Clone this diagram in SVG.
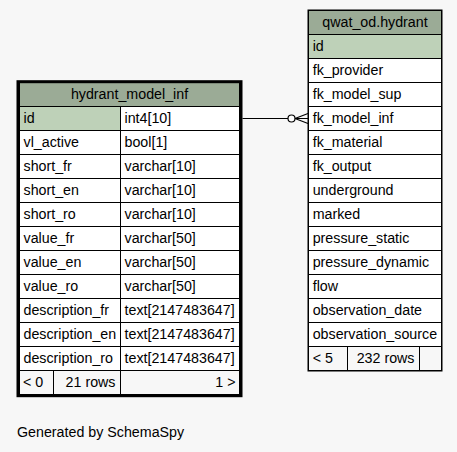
<svg xmlns="http://www.w3.org/2000/svg" width="457" height="452" viewBox="0 0 457 452">
<style>
text{font-family:"Liberation Sans",Arial,sans-serif;font-size:14.25px;fill:#000}
.hd{fill:#9bab96;stroke:#000;stroke-width:1}
.pk{fill:#bed1b8;stroke:#000;stroke-width:1}
.c{fill:#fff;stroke:#000;stroke-width:1}
.ft{fill:#f7f7f7;stroke:#000;stroke-width:1}
.mid{text-anchor:middle}
.end{text-anchor:end}
.ln{stroke:#000;stroke-width:1.2;fill:none}
</style>
<rect width="457" height="452" fill="#f7f7f7"/>
<g id="hydrant_model_inf">
<rect class="hd" x="19.5" y="82.5" width="220" height="24"/>
<text class="mid" x="129.5" y="98.5">hydrant_model_inf</text>
<rect class="pk" x="19.5" y="106.5" width="101" height="24"/><rect class="c" x="120.5" y="106.5" width="119" height="24"/>
<text x="23.5" y="122.7">id</text><text x="124.5" y="122.7">int4[10]</text>
<rect class="c" x="19.5" y="130.5" width="101" height="24"/><rect class="c" x="120.5" y="130.5" width="119" height="24"/>
<text x="23.5" y="146.7">vl_active</text><text x="124.5" y="146.7">bool[1]</text>
<rect class="c" x="19.5" y="154.5" width="101" height="24"/><rect class="c" x="120.5" y="154.5" width="119" height="24"/>
<text x="23.5" y="170.7">short_fr</text><text x="124.5" y="170.7">varchar[10]</text>
<rect class="c" x="19.5" y="178.5" width="101" height="24"/><rect class="c" x="120.5" y="178.5" width="119" height="24"/>
<text x="23.5" y="194.7">short_en</text><text x="124.5" y="194.7">varchar[10]</text>
<rect class="c" x="19.5" y="202.5" width="101" height="24"/><rect class="c" x="120.5" y="202.5" width="119" height="24"/>
<text x="23.5" y="218.7">short_ro</text><text x="124.5" y="218.7">varchar[10]</text>
<rect class="c" x="19.5" y="226.5" width="101" height="24"/><rect class="c" x="120.5" y="226.5" width="119" height="24"/>
<text x="23.5" y="242.7">value_fr</text><text x="124.5" y="242.7">varchar[50]</text>
<rect class="c" x="19.5" y="250.5" width="101" height="24"/><rect class="c" x="120.5" y="250.5" width="119" height="24"/>
<text x="23.5" y="266.7">value_en</text><text x="124.5" y="266.7">varchar[50]</text>
<rect class="c" x="19.5" y="274.5" width="101" height="24"/><rect class="c" x="120.5" y="274.5" width="119" height="24"/>
<text x="23.5" y="290.7">value_ro</text><text x="124.5" y="290.7">varchar[50]</text>
<rect class="c" x="19.5" y="298.5" width="101" height="24"/><rect class="c" x="120.5" y="298.5" width="119" height="24"/>
<text x="23.5" y="314.7">description_fr</text><text x="124.5" y="314.7">text[2147483647]</text>
<rect class="c" x="19.5" y="322.5" width="101" height="24"/><rect class="c" x="120.5" y="322.5" width="119" height="24"/>
<text x="23.5" y="338.7">description_en</text><text x="124.5" y="338.7">text[2147483647]</text>
<rect class="c" x="19.5" y="346.5" width="101" height="24"/><rect class="c" x="120.5" y="346.5" width="119" height="24"/>
<text x="23.5" y="362.7">description_ro</text><text x="124.5" y="362.7">text[2147483647]</text>
<rect class="ft" x="19.5" y="370.5" width="34" height="24"/><rect class="ft" x="53.5" y="370.5" width="67" height="24"/><rect class="ft" x="120.5" y="370.5" width="119" height="24"/>
<text x="23" y="386.7">&lt; 0</text><text class="end" x="115.5" y="386.7">21 rows</text><text class="end" x="235.5" y="386.7">1 &gt;</text>
<rect x="18" y="81.7" width="223" height="314" fill="none" stroke="#000" stroke-width="3"/>
</g>
<g id="qwat_od.hydrant">
<rect class="hd" x="308.5" y="10.5" width="133" height="24"/>
<text class="mid" x="375" y="27">qwat_od.hydrant</text>
<rect class="pk" x="308.5" y="34.5" width="133" height="24"/><text x="312.7" y="50.9">id</text>
<rect class="c" x="308.5" y="58.5" width="133" height="24"/><text x="312.7" y="74.9">fk_provider</text>
<rect class="c" x="308.5" y="82.5" width="133" height="24"/><text x="312.7" y="98.9">fk_model_sup</text>
<rect class="c" x="308.5" y="106.5" width="133" height="24"/><text x="312.7" y="122.9">fk_model_inf</text>
<rect class="c" x="308.5" y="130.5" width="133" height="24"/><text x="312.7" y="146.9">fk_material</text>
<rect class="c" x="308.5" y="154.5" width="133" height="24"/><text x="312.7" y="170.9">fk_output</text>
<rect class="c" x="308.5" y="178.5" width="133" height="24"/><text x="312.7" y="194.9">underground</text>
<rect class="c" x="308.5" y="202.5" width="133" height="24"/><text x="312.7" y="218.9">marked</text>
<rect class="c" x="308.5" y="226.5" width="133" height="24"/><text x="312.7" y="242.9">pressure_static</text>
<rect class="c" x="308.5" y="250.5" width="133" height="24"/><text x="312.7" y="266.9">pressure_dynamic</text>
<rect class="c" x="308.5" y="274.5" width="133" height="24"/><text x="312.7" y="290.9">flow</text>
<rect class="c" x="308.5" y="298.5" width="133" height="24"/><text x="312.7" y="314.9">observation_date</text>
<rect class="c" x="308.5" y="322.5" width="133" height="24"/><text x="312.7" y="338.9">observation_source</text>
<rect class="ft" x="308.5" y="346.5" width="39" height="24"/><rect class="ft" x="347.5" y="346.5" width="72" height="24"/><rect class="ft" x="419.5" y="346.5" width="22" height="24"/>
<text x="312.7" y="362.9">&lt; 5</text><text class="end" x="414.5" y="362.9">232 rows</text>
<rect x="308" y="10" width="134" height="361" fill="none" stroke="#000" stroke-width="1"/>
</g>
<g id="connectors">
<path class="ln" d="M242.5 118.5H288"/>
<circle cx="291.5" cy="118.5" r="3.5" fill="#fff" stroke="#000" stroke-width="1.2"/>
<path class="ln" d="M295 118.5L308 113.5M295 118.5L308 123.5M295 118.5H308"/>
</g>
<text x="17" y="437">Generated by SchemaSpy</text>
</svg>
